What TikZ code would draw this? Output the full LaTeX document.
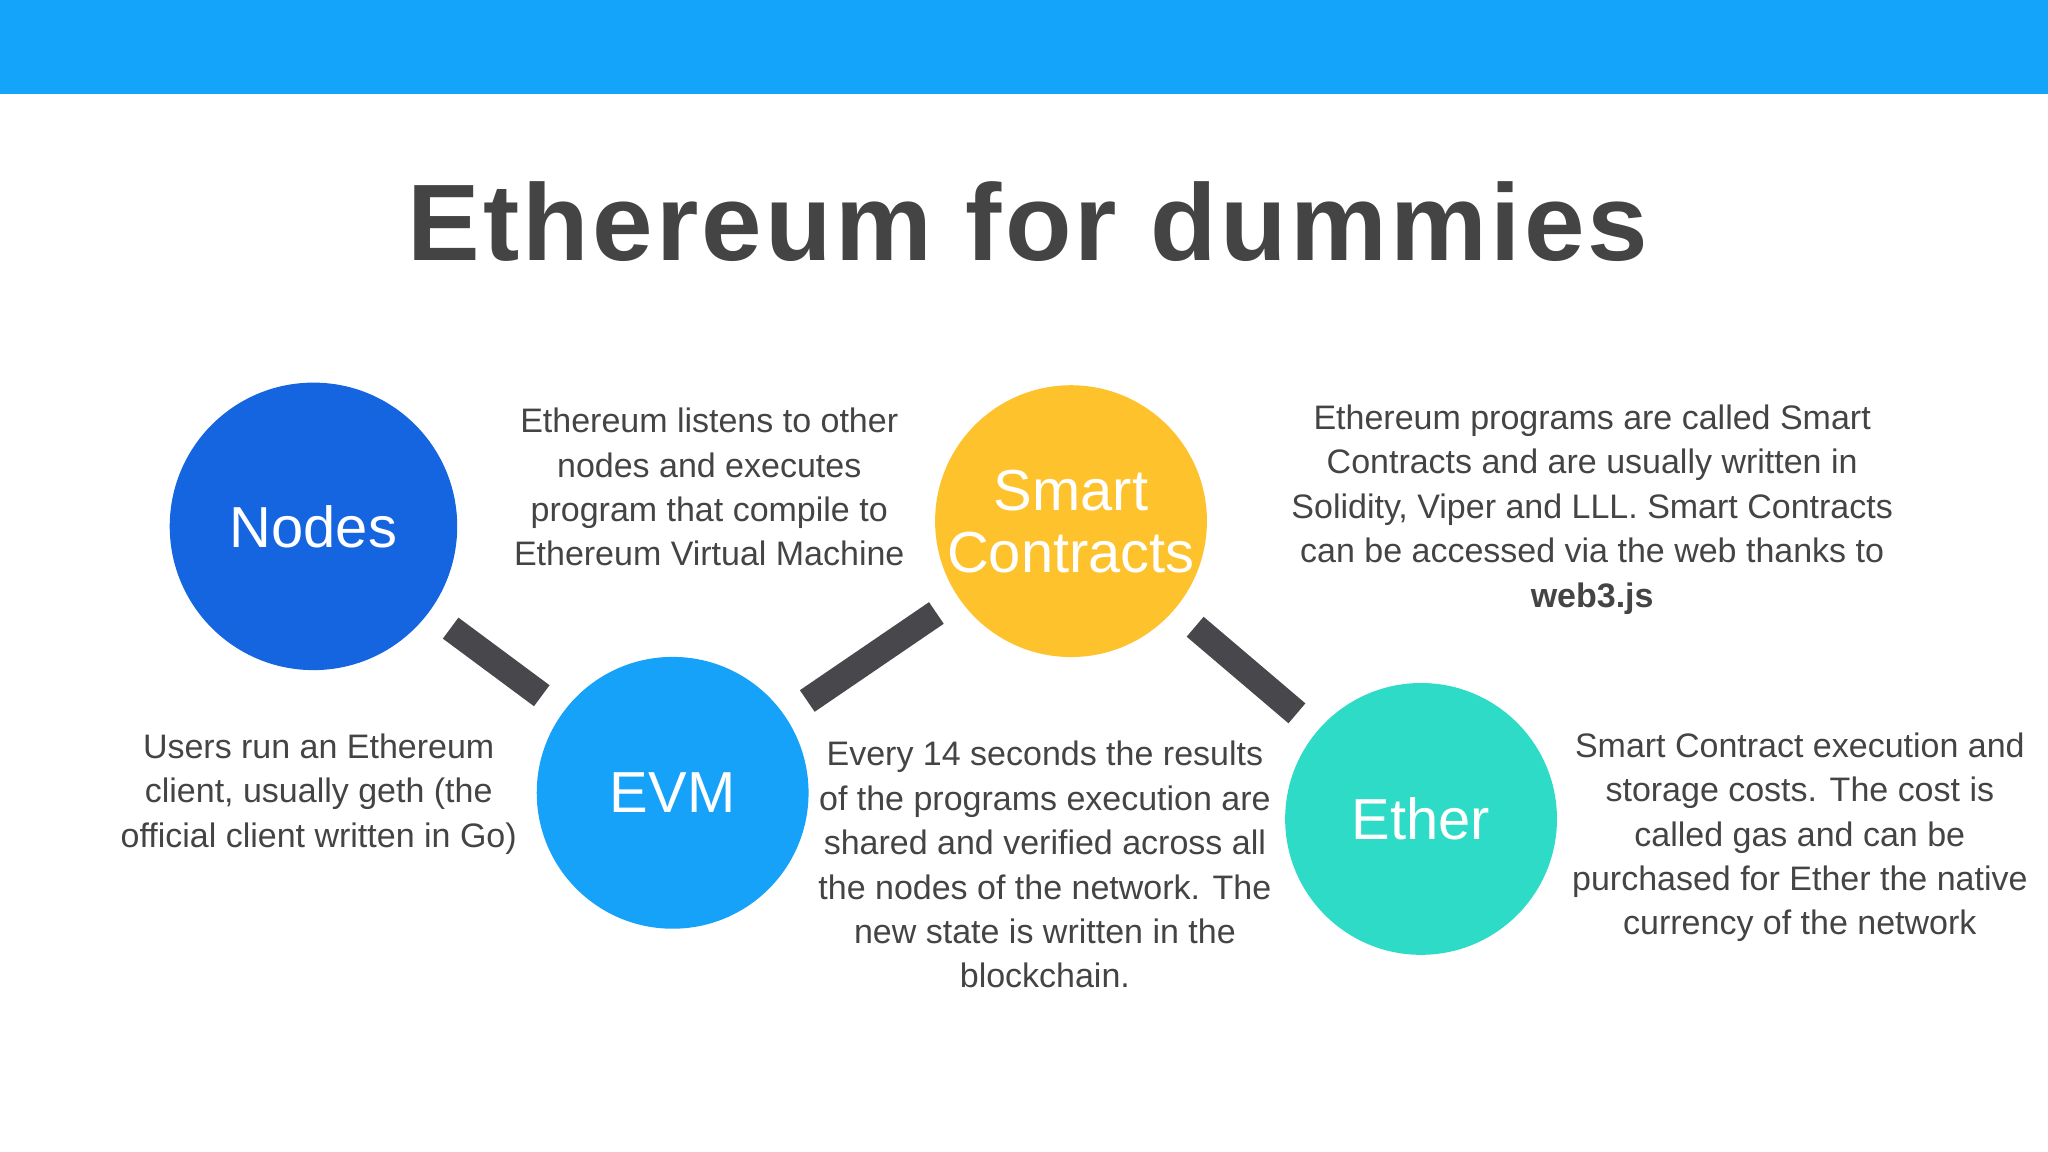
\documentclass[tikz,border=0pt]{standalone}
\usepackage{fontspec}
\setmainfont{Liberation Sans}
\begin{document}
\begin{tikzpicture}[x=0.01cm,y=-0.01cm,
  txt/.style={align=center,text=tg,font=\fontsize{7.4}{9.67}\selectfont,inner sep=0pt},
  circ/.style={circle,minimum size=2.08cm,inner sep=0pt,text=white,align=center,font=\fontsize{12.6}{13.5}\selectfont},
  bar/.style={line width=0.2cm,draw=barc,shorten <=0.2cm,shorten >=0.2cm}]
\definecolor{topb}{HTML}{14A5FA}
\definecolor{tg}{HTML}{444444}
\definecolor{barc}{HTML}{48484C}
\definecolor{c1}{HTML}{1565E0}
\definecolor{c2}{HTML}{16A2F8}
\definecolor{c3}{HTML}{FEC22D}
\definecolor{c4}{HTML}{2DDBC6}
\useasboundingbox (0,0) rectangle (1568,882);
\fill[topb] (0,0) rectangle (1568,72);
\node[text=tg,font=\fontsize{23.7}{26}\selectfont\bfseries\addfontfeature{LetterSpace=3}] (title) at (787,170) {Ethereum for dummies};
\node[circ,fill=c1,minimum size=2.2cm] (nodes) at (240,403) {Nodes};
\node[circ,fill=c2] (evm) at (515,607) {EVM};
\node[circ,fill=c3] (sc) at (820,399) {Smart\\Contracts};
\node[circ,fill=c4] (ether) at (1088,627) {Ether};
\draw[bar] (nodes) -- (evm);
\draw[bar] (evm) -- (sc);
\draw[bar] (sc) -- (ether);
\node[txt] (t1) at (543,373) {Ethereum listens to other\\nodes and executes\\program that compile to\\Ethereum Virtual Machine};
\node[txt] (t2) at (1219,390) {Ethereum programs are called Smart\\Contracts and are usually written in\\Solidity, Viper and LLL. Smart Contracts\\can be accessed via the web thanks to\\\textbf{web3.js}};
\node[txt] (t3) at (244,608) {Users run an Ethereum\\client, usually geth (the\\official client written in Go)};
\node[txt] (t4) at (800,662) {Every 14 seconds the results\\of the programs execution are\\shared and verified across all\\the nodes of the network. The\\new state is written in the\\blockchain.};
\node[txt] (t5) at (1378,641) {Smart Contract execution and\\storage costs. The cost is\\called gas and can be\\purchased for Ether the native\\currency of the network};
\end{tikzpicture}
\end{document}
